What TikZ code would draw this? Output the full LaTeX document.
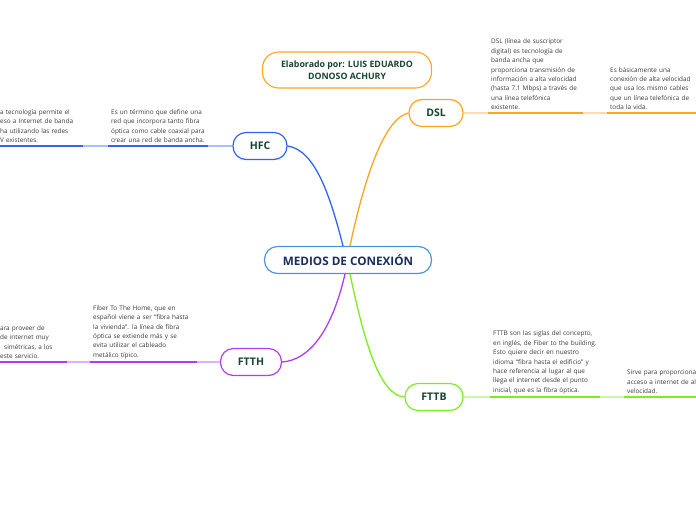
\documentclass[tikz,border=0pt]{standalone}
\usepackage{fontspec}
\setmainfont{Open Sans}
\usepackage{tikz}
\usetikzlibrary{positioning,calc}
\definecolor{nodegreen}{RGB}{23,69,47}
\definecolor{leafgray}{RGB}{58,58,58}
\definecolor{mediosnavy}{RGB}{27,47,94}
\definecolor{mediosblue}{RGB}{78,149,216}
\definecolor{hfcblue}{RGB}{47,100,245}
\definecolor{dslorange}{RGB}{255,164,31}
\definecolor{ftthpurple}{RGB}{176,60,240}
\definecolor{fttbgreen}{RGB}{125,237,31}

\tikzset{
  topic/.style={draw=#1, rounded corners=13pt, line width=1.2pt, fill=white,
    font=\bfseries\fontsize{10.5}{12}\selectfont, text=nodegreen, minimum height=27pt},
  leaf/.style={align=left, inner xsep=3pt, inner ysep=3pt, anchor=south west,
    font=\fontsize{6.4}{9.4}\selectfont, text=leafgray},
  branch/.style={draw=#1, line width=1.3pt},
  uline/.style={draw=#1, line width=2pt},
  lline/.style={draw=#1!40, line width=2pt}
}

\begin{document}
\begin{tikzpicture}[x=1pt, y=-1pt]
  \useasboundingbox (0,0) rectangle (696,520);
  \clip (0,0) rectangle (696,520);

  % central idea and author
  \node[draw=mediosblue, rounded corners=13pt, line width=1.2pt, fill=white,
        minimum width=167pt, minimum height=27pt, text=mediosnavy,
        font=\bfseries\fontsize{11.7}{13}\selectfont] (medios) at (348,260) {MEDIOS DE CONEXIÓN};
  \node[draw=dslorange, rounded corners=16pt, line width=1.1pt, fill=white,
        minimum width=169pt, minimum height=36pt, text=nodegreen, align=center,
        font=\bfseries\fontsize{8.8}{12.5}\selectfont] (autor) at (347,70) {Elaborado por: LUIS EDUARDO\\DONOSO ACHURY};

  % main topics
  \node[topic=hfcblue, minimum width=54pt] (hfc) at (260,146) {HFC};
  \node[topic=dslorange, minimum width=54pt] (dsl) at (436,113) {DSL};
  \node[topic=ftthpurple, minimum width=61pt] (ftth) at (251,362) {FTTH};
  \node[topic=fttbgreen, minimum width=58pt] (fttb) at (434,397) {FTTB};

  \draw[branch=hfcblue] ([xshift=-5pt]medios.north) .. controls (330,195) and (315,150) .. (hfc.east);
  \draw[branch=dslorange] ([xshift=2pt]medios.north) .. controls (365,175) and (385,118) .. (dsl.west);
  \draw[branch=ftthpurple] ([xshift=-3pt]medios.south) .. controls (332,330) and (310,360) .. (ftth.east);
  \draw[branch=fttbgreen] ([xshift=2pt]medios.south) .. controls (365,345) and (380,395) .. (fttb.west);

  % HFC
  \node[leaf, text width=94pt] (hfcA) at (108,146) {Es un término que define una\\red que incorpora tanto fibra\\óptica como cable coaxial para\\crear una red de banda ancha.};
  \node[leaf, text width=80pt] (hfcB) at (-3,146) {a tecnología permite el\\eso a Internet de banda\\ha utilizando las redes\\V existentes.};
  \draw[lline=hfcblue] (hfc.west) -- (hfcA.south east);
  \draw[uline=hfcblue] (hfcA.south east) -- (hfcA.south west);
  \draw[lline=hfcblue] (hfcA.south west) -- (hfcB.south east);
  \draw[uline=hfcblue] (hfcB.south east) -- (hfcB.south west);

  % DSL
  \node[leaf, text width=89pt] (dslA) at (488,113) {DSL (línea de suscriptor\\digital) es tecnología de\\banda ancha que\\proporciona transmisión de\\información a alta velocidad\\(hasta 7.1 Mbps) a través de\\una línea telefónica\\existente.};
  \node[leaf, text width=85pt] (dslB) at (607,113) {Es básicamente una\\conexión de alta velocidad\\que usa los mismo cables\\que un línea telefónica de\\toda la vida.};
  \draw[lline=dslorange] (dsl.east) -- (dslA.south west);
  \draw[uline=dslorange] (dslA.south west) -- (dslA.south east);
  \draw[lline=dslorange] (dslA.south east) -- (dslB.south west);
  \draw[uline=dslorange] (dslB.south west) -- (dslB.south east);

  % FTTH
  \node[leaf, text width=101pt] (ftthA) at (90,362) {Fiber To The Home, que en\\español viene a ser “fibra hasta\\la vivienda”. la línea de fibra\\óptica se extiende más y se\\evita utilizar el cableado\\metálico típico.};
  \node[leaf, text width=64pt] (ftthB) at (-3,362) {ara proveer de\\de internet muy\\\hspace*{4pt}simétricas, a los\\este servicio.};
  \draw[lline=ftthpurple] (ftth.west) -- (ftthA.south east);
  \draw[uline=ftthpurple] (ftthA.south east) -- (ftthA.south west);
  \draw[lline=ftthpurple] (ftthA.south west) -- (ftthB.south east);
  \draw[uline=ftthpurple] (ftthB.south east) -- (ftthB.south west);

  % FTTB
  \node[leaf, text width=104pt] (fttbA) at (490,397) {FTTB son las siglas del concepto,\\en inglés, de Fiber to the building.\\Esto quiere decir en nuestro\\idioma “fibra hasta el edificio” y\\hace referencia al lugar al que\\llega el internet desde el punto\\inicial, que es la fibra óptica.};
  \node[leaf, text width=74pt] (fttbB) at (624,397) {Sirve para proporciona\\acceso a internet de alt\\velocidad.};
  \draw[lline=fttbgreen] (fttb.east) -- (fttbA.south west);
  \draw[uline=fttbgreen] (fttbA.south west) -- (fttbA.south east);
  \draw[lline=fttbgreen] (fttbA.south east) -- (fttbB.south west);
  \draw[uline=fttbgreen] (fttbB.south west) -- (fttbB.south east);
\end{tikzpicture}
\end{document}
